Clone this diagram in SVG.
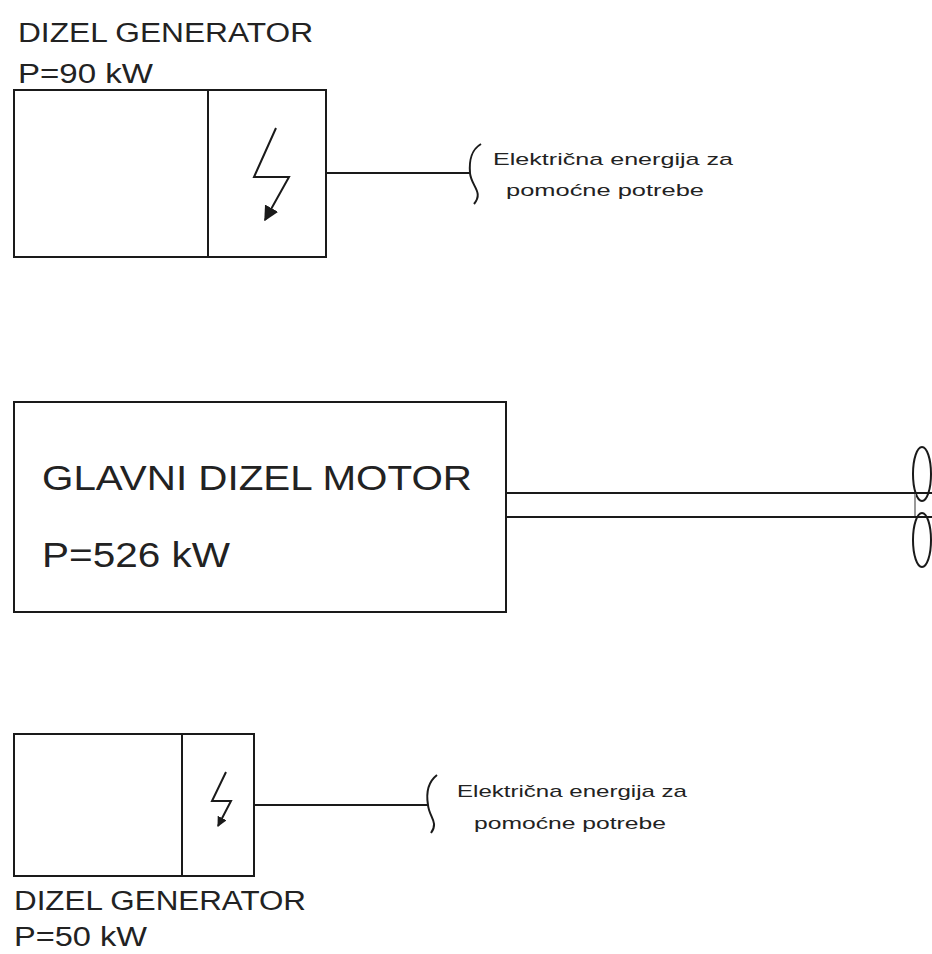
<svg xmlns="http://www.w3.org/2000/svg" width="932" height="954" viewBox="0 0 932 954">
<style>
.ln{fill:none;stroke:#1a1a1a;stroke-width:2}
.t{font-family:"Liberation Sans","DejaVu Sans",sans-serif;fill:#222}
.big{font-size:27px}
.huge{font-size:35px}
.sm{font-size:17px}
</style>
<defs>
<marker id="ah" viewBox="0 0 10 10" refX="9" refY="5" markerWidth="7.5" markerHeight="7.5" orient="auto" markerUnits="strokeWidth">
<path d="M0,0 L10,5 L0,10 z" fill="#1a1a1a"/>
</marker>
<marker id="ahs" viewBox="0 0 10 10" refX="9" refY="5" markerWidth="5" markerHeight="5" orient="auto" markerUnits="strokeWidth">
<path d="M0,0 L10,5 L0,10 z" fill="#1a1a1a"/>
</marker>
</defs>
<rect width="932" height="954" fill="#fff"/>

<g id="gen90">
<text class="t big" x="18" y="42" textLength="295" lengthAdjust="spacingAndGlyphs">DIZEL GENERATOR</text>
<text class="t big" x="18" y="83" textLength="135" lengthAdjust="spacingAndGlyphs">P=90 kW</text>
<rect class="ln" x="14" y="90" width="312" height="167"/>
<line class="ln" x1="208" y1="90" x2="208" y2="257"/>
<polyline class="ln" points="276,128 254,177 289,177 265,220" marker-end="url(#ah)"/>
</g>

<g id="label90">
<text class="t sm" x="493" y="165" textLength="240" lengthAdjust="spacingAndGlyphs">Električna energija za</text>
<text class="t sm" x="605" y="196" text-anchor="middle" textLength="198" lengthAdjust="spacingAndGlyphs">pomoćne potrebe</text>
</g>

<g id="motor">
<rect class="ln" x="14" y="402" width="492" height="210"/>
<text class="t huge" x="42" y="490" textLength="430" lengthAdjust="spacingAndGlyphs">GLAVNI DIZEL MOTOR</text>
<text class="t huge" x="42" y="567" textLength="188" lengthAdjust="spacingAndGlyphs">P=526 kW</text>
</g>

<g id="propeller">
<ellipse class="ln" cx="922" cy="474" rx="9" ry="27"/>
<ellipse class="ln" cx="922" cy="540" rx="9" ry="27"/>
<line x1="915" y1="493" x2="915" y2="517" stroke="#999" stroke-width="2"/>
</g>

<g id="gen50">
<rect class="ln" x="14" y="734" width="240" height="142"/>
<line class="ln" x1="182" y1="734" x2="182" y2="876"/>
<polyline class="ln" points="226,772 212,801 231,801 218,826" marker-end="url(#ahs)"/>
<text class="t big" x="14" y="910" textLength="292" lengthAdjust="spacingAndGlyphs">DIZEL GENERATOR</text>
<text class="t big" x="14" y="946" textLength="133" lengthAdjust="spacingAndGlyphs">P=50 kW</text>
</g>

<g id="label50">
<text class="t sm" x="457" y="797" textLength="230" lengthAdjust="spacingAndGlyphs">Električna energija za</text>
<text class="t sm" x="570" y="829" text-anchor="middle" textLength="192" lengthAdjust="spacingAndGlyphs">pomoćne potrebe</text>
</g>

<g id="connectors">
<line class="ln" x1="326" y1="173" x2="470" y2="173"/>
<path class="ln" d="M481 144 C471 150 469 160 470 173 C471 186 484 192 474 204"/>
<line class="ln" x1="506" y1="493" x2="932" y2="493"/>
<line class="ln" x1="506" y1="517" x2="932" y2="517"/>
<line class="ln" x1="254" y1="805" x2="428" y2="805"/>
<path class="ln" d="M437 775 C428 782 426 793 428 805 C429 817 439 822 431 833"/>
</g>
</svg>
